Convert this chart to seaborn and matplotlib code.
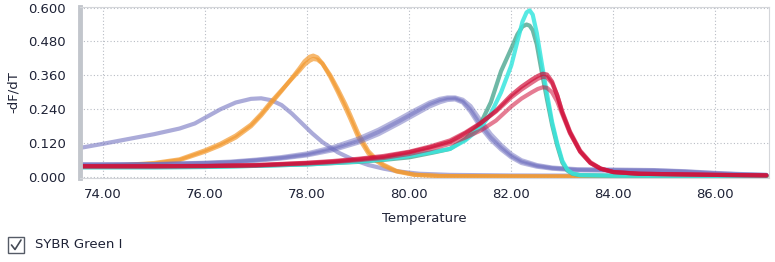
import seaborn as sns
from matplotlib import pyplot as plt
from matplotlib.patches import Rectangle
from matplotlib.lines import Line2D
from matplotlib.ticker import FormatStrFormatter, MultipleLocator
import pandas as pd

# broad low-melting peak (~77 C)
purple_a_t = [73.6, 74.0, 74.5, 75.0, 75.5, 75.8, 76.0, 76.3, 76.6, 76.9, 77.1, 77.3, 77.5, 77.7,
              77.9, 78.1, 78.3, 78.6, 78.9, 79.2, 79.5, 79.8, 80.2, 80.8, 82.0, 84.0, 87.0]
purple_a = [0.105, 0.118, 0.135, 0.152, 0.172, 0.190, 0.210, 0.240, 0.264, 0.277, 0.279, 0.272,
            0.255, 0.225, 0.190, 0.155, 0.124, 0.088, 0.062, 0.043, 0.030, 0.020, 0.012, 0.008,
            0.006, 0.005, 0.004]

# orange replicates (~78 C)
orange_t = [73.6, 74.0, 74.5, 75.0, 75.5, 76.0, 76.3, 76.6, 76.9, 77.1, 77.3, 77.5, 77.7, 77.85,
            77.95, 78.05, 78.12, 78.2, 78.3, 78.45, 78.6, 78.75, 78.85, 79.0, 79.2, 79.35, 79.5,
            79.75, 80.1, 80.6, 82.0, 84.0, 87.0]
orange_1 = [0.038, 0.040, 0.043, 0.048, 0.060, 0.090, 0.112, 0.140, 0.180, 0.218, 0.262, 0.305,
            0.350, 0.385, 0.410, 0.426, 0.430, 0.424, 0.402, 0.356, 0.302, 0.245, 0.205, 0.142,
            0.084, 0.058, 0.040, 0.020, 0.008, 0.004, 0.003, 0.002, 0.002]
orange_2 = [0.038, 0.040, 0.044, 0.050, 0.063, 0.095, 0.118, 0.147, 0.186, 0.224, 0.268, 0.308,
            0.348, 0.377, 0.398, 0.412, 0.418, 0.416, 0.402, 0.362, 0.312, 0.258, 0.218, 0.155,
            0.092, 0.064, 0.044, 0.022, 0.009, 0.004, 0.003, 0.002, 0.002]

# purple replicates (~80.8 C)
purple_c_t = [73.6, 74.0, 75.0, 76.0, 76.5, 77.0, 77.5, 78.0, 78.5, 79.0, 79.4, 79.8, 80.1, 80.4,
              80.6, 80.75, 80.9, 81.05, 81.2, 81.4, 81.6, 81.8, 82.0, 82.2, 82.5, 82.8, 83.3,
              84.0, 84.8, 85.4, 86.0, 86.5, 87.0]
purple_c1 = [0.045, 0.045, 0.046, 0.050, 0.053, 0.060, 0.068, 0.080, 0.100, 0.128, 0.160, 0.198,
             0.228, 0.258, 0.272, 0.278, 0.279, 0.268, 0.240, 0.185, 0.140, 0.105, 0.075, 0.055,
             0.040, 0.032, 0.026, 0.025, 0.024, 0.020, 0.014, 0.010, 0.008]
purple_c2 = [0.045, 0.045, 0.046, 0.051, 0.055, 0.062, 0.071, 0.084, 0.106, 0.136, 0.168, 0.206,
             0.236, 0.264, 0.277, 0.282, 0.282, 0.274, 0.252, 0.200, 0.152, 0.114, 0.082, 0.060,
             0.043, 0.034, 0.028, 0.027, 0.025, 0.021, 0.015, 0.011, 0.008]
purple_c3 = [0.044, 0.044, 0.045, 0.049, 0.052, 0.058, 0.066, 0.077, 0.095, 0.122, 0.152, 0.190,
             0.220, 0.250, 0.265, 0.273, 0.275, 0.264, 0.232, 0.176, 0.132, 0.098, 0.070, 0.050,
             0.037, 0.030, 0.024, 0.023, 0.022, 0.018, 0.012, 0.009, 0.007]

# teal / cyan replicates (~82.3 C)
cyan_t = [73.6, 75.0, 76.0, 77.0, 78.0, 79.0, 79.5, 80.0, 80.5, 80.8, 81.1, 81.4, 81.6, 81.8,
          82.0, 82.12, 82.22, 82.3, 82.36, 82.42, 82.5, 82.6, 82.7, 82.8, 82.9, 83.0, 83.1,
          83.2, 83.35, 84.0, 87.0]
cyan_1 = [0.035, 0.035, 0.036, 0.040, 0.045, 0.055, 0.063, 0.075, 0.090, 0.100, 0.130, 0.175,
          0.225, 0.300, 0.395, 0.480, 0.550, 0.583, 0.590, 0.575, 0.510, 0.400, 0.295, 0.195,
          0.120, 0.058, 0.026, 0.013, 0.007, 0.005, 0.004]
teal_1 = [0.035, 0.035, 0.036, 0.040, 0.045, 0.054, 0.061, 0.070, 0.088, 0.100, 0.135, 0.190,
          0.265, 0.375, 0.455, 0.505, 0.533, 0.540, 0.536, 0.520, 0.470, 0.370, 0.275, 0.185,
          0.112, 0.052, 0.023, 0.012, 0.007, 0.005, 0.004]

# red replicates (~82.6 C)
red_t = [73.6, 74.0, 75.0, 76.0, 77.0, 78.0, 78.5, 79.0, 79.5, 80.0, 80.4, 80.8, 81.1, 81.4,
         81.7, 82.0, 82.2, 82.4, 82.52, 82.62, 82.7, 82.8, 82.9, 83.0, 83.15, 83.35, 83.55, 83.75,
         84.0, 84.5, 86.0, 87.0]
red_1 = [0.038, 0.038, 0.038, 0.039, 0.042, 0.050, 0.055, 0.063, 0.072, 0.088, 0.105, 0.125,
         0.155, 0.190, 0.235, 0.290, 0.320, 0.345, 0.358, 0.366, 0.363, 0.338, 0.290, 0.228,
         0.158, 0.090, 0.050, 0.030, 0.018, 0.012, 0.008, 0.006]
red_2 = [0.039, 0.039, 0.039, 0.040, 0.043, 0.051, 0.057, 0.065, 0.075, 0.090, 0.108, 0.130,
         0.158, 0.192, 0.232, 0.282, 0.310, 0.334, 0.348, 0.355, 0.353, 0.332, 0.290, 0.232,
         0.162, 0.094, 0.053, 0.031, 0.018, 0.012, 0.008, 0.006]
red_3 = [0.038, 0.038, 0.038, 0.039, 0.041, 0.048, 0.053, 0.060, 0.068, 0.082, 0.098, 0.118,
         0.140, 0.165, 0.200, 0.250, 0.278, 0.300, 0.312, 0.318, 0.316, 0.300, 0.268, 0.222,
         0.155, 0.090, 0.050, 0.030, 0.018, 0.012, 0.008, 0.006]

x_ticks = [74, 76, 78, 80, 82, 84, 86]
y_ticks = [0.0, 0.12, 0.24, 0.36, 0.48, 0.6]

series = [
    (purple_a_t, purple_a, "#7474c0", 0.6),
    (orange_t, orange_2, "#f39a30", 0.7),
    (orange_t, orange_1, "#f39a30", 0.7),
    (purple_c_t, purple_c1, "#6f6fbf", 0.5),
    (purple_c_t, purple_c2, "#6f6fbf", 0.5),
    (purple_c_t, purple_c3, "#6f6fbf", 0.5),
    (cyan_t, teal_1, "#3fa088", 0.75),
    (cyan_t, cyan_1, "#38e6de", 0.85),
    (red_t, red_3, "#d0103a", 0.55),
    (red_t, red_2, "#d0103a", 0.6),
    (red_t, red_1, "#d0103a", 0.7),
]

sns.set_style("white")
plt.rcParams["font.family"] = ["DejaVu Sans"]
fig = plt.figure(figsize=(7.75, 2.62), dpi=100)
ax = fig.add_axes([80 / 775, 1 - 178 / 262, 689 / 775, 171 / 262])

for t, v, c, a in series:
    df = pd.DataFrame({"Temperature": t, "-dF/dT": v})
    sns.lineplot(data=df, x="Temperature", y="-dF/dT", color=c, alpha=a, lw=3.0,
                 ax=ax, solid_capstyle="round", solid_joinstyle="round")

ax.set_xlim(73.55, 87.05)
ax.set_ylim(-0.003, 0.602)
ax.set_xticks(x_ticks)
ax.xaxis.set_minor_locator(MultipleLocator(1))
ax.set_yticks(y_ticks)
ax.xaxis.set_major_formatter(FormatStrFormatter("%.2f"))
ax.yaxis.set_major_formatter(FormatStrFormatter("%.3f"))
ax.grid(True, which="major", ls=(0, (1, 2)), color="#b8bcc4", lw=0.8)
ax.tick_params(axis="both", which="both", labelsize=9.5, labelcolor="#1e2236",
               color="#b0b4bc", length=3, width=0.8)
ax.tick_params(axis="y", pad=10, length=0)
ax.tick_params(axis="x", pad=4)
for side in ["top", "right", "bottom"]:
    ax.spines[side].set_color("#d4d6da")
    ax.spines[side].set_linewidth(0.8)
ax.spines["left"].set_color("#c2c6cc")
ax.spines["left"].set_linewidth(3.5)
ax.set_xlabel("Temperature", fontsize=9.5, color="#1e2236", labelpad=8)
ax.set_ylabel("-dF/dT", fontsize=9.5, color="#1e2236", labelpad=6)

# legend checkbox
fig.patches.append(Rectangle((8 / 775, 1 - 253 / 262), 16 / 775, 16 / 262,
                             transform=fig.transFigure, fill=False, ec="#555b66", lw=1))
fig.lines.append(Line2D([11.5 / 775, 15 / 775, 21 / 775],
                        [1 - 245 / 262, 1 - 249.5 / 262, 1 - 240 / 262],
                        transform=fig.transFigure, color="#444a55", lw=1.2))
fig.text(35 / 775, 1 - 245 / 262, "SYBR Green I", fontsize=9.5, color="#1e2236",
         va="center", ha="left")

plt.savefig("out.png", dpi=100)
